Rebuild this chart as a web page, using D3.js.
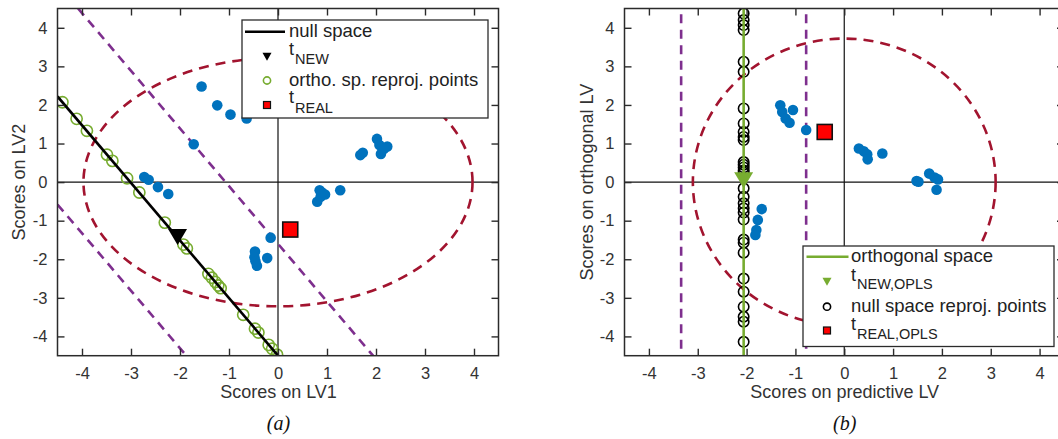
<!DOCTYPE html>
<html>
<head>
<meta charset="utf-8">
<script src="https://cdn.jsdelivr.net/npm/d3@7/dist/d3.min.js"></script>
<style>
  html, body { margin: 0; padding: 0; background: #fff; }
  svg { display: block; }
</style>
</head>
<body>
<svg id="fig" width="1058" height="439"></svg>
<script>
// ---------- shared axis ticks ----------
const tickValues = [-4, -3, -2, -1, 0, 1, 2, 3, 4];
const axisDomain = [-4.5, 4.5];

// ---------- panel (a): PLS scores ----------
const scoresA = [
  [-1.56, 2.48], [-1.24, 1.99], [-0.97, 1.75], [-0.64, 1.65], [-1.72, 0.98],
  [-2.73, 0.13], [-2.64, 0.06], [-2.45, -0.13], [-2.24, -0.31],
  [-0.15, -1.44], [-0.47, -1.80], [-0.48, -1.95], [-0.43, -2.17], [-0.22, -1.97], [-0.46, -2.05],
  [0.85, -0.21], [0.80, -0.51], [0.87, -0.38], [0.96, -0.32], [0.90, -0.27], [1.27, -0.21],
  [1.68, 0.70], [1.73, 0.76], [2.02, 1.12], [2.07, 0.96], [2.10, 0.73], [2.23, 0.92], [2.16, 0.86]
];
const nullSpaceA = [[-4.5, 2.22], [0.0, -4.5]];
const limitUpperA = [[-4.08, 4.5], [1.94, -4.5]];
const limitLowerA = [[-4.5, -0.58], [-1.87, -4.5]];
const reprojA = [
  [-4.40, 2.07], [-4.11, 1.64], [-3.90, 1.33], [-3.49, 0.71], [-3.38, 0.55],
  [-3.08, 0.10], [-2.83, -0.27], [-2.31, -1.05], [-1.93, -1.62], [-1.86, -1.72],
  [-1.42, -2.38], [-1.35, -2.48], [-1.28, -2.59], [-1.22, -2.68], [-1.17, -2.75],
  [-0.71, -3.44], [-0.47, -3.80], [-0.40, -3.90], [-0.19, -4.22], [-0.12, -4.32], [-0.02, -4.47]
];
const tNewA = [-2.05, -1.42];
const tRealA = [0.25, -1.23];
const ellipseA = { cx: 0, cy: 0, rx: 3.97, ry: 3.22 };

// ---------- panel (b): OPLS scores ----------
const scoresB = [
  [-1.31, 1.99], [-1.27, 1.82], [-1.20, 1.65], [-1.12, 1.54], [-1.05, 1.87], [-0.78, 1.35],
  [0.30, 0.87], [0.40, 0.80], [0.47, 0.72], [0.48, 0.59], [0.78, 0.74],
  [1.48, 0.03], [1.52, 0.01], [1.74, 0.22], [1.85, 0.12], [1.92, 0.07], [1.89, -0.20],
  [-1.69, -0.70], [-1.77, -0.98], [-1.80, -1.24], [-1.82, -1.37]
];
const orthoSpaceX = -2.06;
const limitsB = [-3.34, -0.78];
const reprojY_B = [
  4.37, 4.20, 4.07, 3.94, 3.12, 2.86, 1.91, 1.52, 1.30, 1.17, 1.09,
  0.52, 0.45, 0.38, 0.30, 0.25, -0.16, -0.38, -0.55, -0.68, -0.79, -0.97,
  -1.49, -1.57, -1.83, -2.50, -2.84, -3.23, -3.49, -3.62, -4.14
];
const tNewB = [-2.06, 0.05];
const tRealB = [-0.40, 1.30];
const ellipseB = { cx: 0, cy: 0, rx: 3.10, ry: 3.72 };

// ---------- styles ----------
const BLUE = "#0072BD", GREEN = "#77AC30", PURPLE = "#7E2F8E", DKRED = "#A2142F";
const AXIS = "#2b2b2b", FONT = "'Liberation Sans', Arial, Helvetica, sans-serif";
const tickFmt = d => String(d);   // plain hyphen-minus for negatives

const svg = d3.select("#fig");
svg.append("rect").attr("width", 1058).attr("height", 439).attr("fill", "#fff");

function makePanel(id, box, xLabel, yLabel, caption, yLabelX) {
  const x = d3.scaleLinear().domain(axisDomain).range([box.left, box.right]);
  const y = d3.scaleLinear().domain(axisDomain).range([box.bottom, box.top]);
  const g = svg.append("g");
  g.append("clipPath").attr("id", id)
    .append("rect").attr("x", box.left).attr("y", box.top)
    .attr("width", box.right - box.left).attr("height", box.bottom - box.top);
  const plot = g.append("g").attr("clip-path", `url(#${id})`);

  // zero lines
  plot.append("line").attr("x1", x(-4.5)).attr("x2", x(4.5)).attr("y1", y(0)).attr("y2", y(0))
    .attr("stroke", "#111").attr("stroke-width", 1.2);
  plot.append("line").attr("x1", x(0)).attr("x2", x(0)).attr("y1", y(-4.5)).attr("y2", y(4.5))
    .attr("stroke", "#111").attr("stroke-width", 1.2);

  // axes with inward ticks on all four sides
  const tl = 7;
  const frame = g.append("g");
  frame.append("g").attr("transform", `translate(0,${box.bottom})`)
    .call(d3.axisBottom(x).tickValues(tickValues).tickSizeInner(-tl).tickSizeOuter(0).tickPadding(12).tickFormat(tickFmt));
  frame.append("g").attr("transform", `translate(0,${box.top})`)
    .call(d3.axisTop(x).tickValues(tickValues).tickSizeInner(-tl).tickSizeOuter(0).tickFormat(""));
  frame.append("g").attr("transform", `translate(${box.left},0)`)
    .call(d3.axisLeft(y).tickValues(tickValues).tickSizeInner(-tl).tickSizeOuter(0).tickPadding(10).tickFormat(tickFmt));
  frame.append("g").attr("transform", `translate(${box.right},0)`)
    .call(d3.axisRight(y).tickValues(tickValues).tickSizeInner(-tl).tickSizeOuter(0).tickFormat(""));
  frame.selectAll(".domain").remove();
  frame.selectAll(".tick line").attr("stroke", AXIS).attr("stroke-width", 1.4);
  frame.selectAll(".tick text").attr("fill", "#333").attr("font-size", "16.5px").attr("font-family", FONT);
  frame.append("rect").attr("x", box.left).attr("y", box.top)
    .attr("width", box.right - box.left).attr("height", box.bottom - box.top)
    .attr("fill", "none").attr("stroke", AXIS).attr("stroke-width", 1.5);

  g.append("text").attr("x", (x(-4.5) + x(4.5)) / 2 + 0.5).attr("y", 398)
    .attr("text-anchor", "middle").attr("font-family", FONT).attr("font-size", "18px").attr("fill", "#333")
    .text(xLabel);
  g.append("text").attr("transform", `translate(${yLabelX},${(box.top + box.bottom) / 2}) rotate(-90)`)
    .attr("text-anchor", "middle").attr("font-family", FONT).attr("font-size", "18px").attr("fill", "#333")
    .text(yLabel);
  g.append("text").attr("x", (x(-4.5) + x(4.5)) / 2 + 0.5).attr("y", 430)
    .attr("text-anchor", "middle").attr("font-family", "'Liberation Serif', 'Times New Roman', serif")
    .attr("font-style", "italic").attr("font-size", "20px").attr("fill", "#111")
    .text(caption);
  return { x, y, g, plot };
}

function downTriangle(w, h) {
  return `M${-w / 2},${-h / 2}L${w / 2},${-h / 2}L0,${h / 2}Z`;
}

function drawEllipse(p, e) {
  p.plot.append("ellipse")
    .attr("cx", p.x(e.cx)).attr("cy", p.y(e.cy))
    .attr("rx", p.x(e.cx + e.rx) - p.x(e.cx)).attr("ry", p.y(e.cy) - p.y(e.cy + e.ry))
    .attr("fill", "none").attr("stroke", DKRED).attr("stroke-width", 2.6)
    .attr("stroke-dasharray", "10,7");
}

function drawSegment(p, pts, color, width, dash) {
  const line = d3.line().x(d => p.x(d[0])).y(d => p.y(d[1]));
  const path = p.plot.append("path").attr("d", line(pts))
    .attr("fill", "none").attr("stroke", color).attr("stroke-width", width);
  if (dash) path.attr("stroke-dasharray", dash);
}

function drawDots(p, pts) {
  p.plot.append("g").selectAll("circle").data(pts).join("circle")
    .attr("cx", d => p.x(d[0])).attr("cy", d => p.y(d[1])).attr("r", 5.3)
    .attr("fill", BLUE);
}

function drawSquare(p, pt) {
  p.plot.append("rect").attr("x", p.x(pt[0]) - 7.5).attr("y", p.y(pt[1]) - 7.5)
    .attr("width", 15).attr("height", 15)
    .attr("fill", "#ff0000").attr("stroke", "#111").attr("stroke-width", 1.6);
}

function drawLegend(p, box, rows) {
  const lg = p.g.append("g");
  lg.append("rect").attr("x", box.x).attr("y", box.y).attr("width", box.w).attr("height", box.h)
    .attr("fill", "#fff").attr("stroke", AXIS).attr("stroke-width", 1.3);
  rows.forEach(r => {
    const cy = r.cy;
    if (r.kind === "line") {
      lg.append("line").attr("x1", box.sx0).attr("x2", box.sx1).attr("y1", cy).attr("y2", cy)
        .attr("stroke", r.color).attr("stroke-width", 2.6);
    } else if (r.kind === "tri") {
      lg.append("path").attr("d", downTriangle(9, 8)).attr("transform", `translate(${box.mx},${cy})`)
        .attr("fill", r.color);
    } else if (r.kind === "circle") {
      lg.append("circle").attr("cx", box.mx).attr("cy", cy).attr("r", 3.6)
        .attr("fill", "none").attr("stroke", r.color).attr("stroke-width", 1.6);
    } else if (r.kind === "square") {
      lg.append("rect").attr("x", box.mx - 3.5).attr("y", cy - 3.5).attr("width", 7).attr("height", 7)
        .attr("fill", "#ff0000").attr("stroke", "#111").attr("stroke-width", 1.2);
    }
    if (r.sub) {
      // main symbol with a lowered, smaller subscript
      lg.append("text").attr("x", box.tx).attr("y", cy + r.tdy).attr("font-family", FONT)
        .attr("font-size", "18px").attr("fill", "#222").text(r.label);
      lg.append("text").attr("x", box.tx + 6).attr("y", cy + r.sdy).attr("font-family", FONT)
        .attr("font-size", "14.5px").attr("fill", "#222").text(r.sub);
    } else {
      lg.append("text").attr("x", box.tx).attr("y", cy + 5.5).attr("font-family", FONT)
        .attr("font-size", "18.5px").attr("fill", "#222").text(r.label);
    }
  });
}

// ===== panel (a) =====
const pA = makePanel("clipA", { left: 57.5, right: 498.5, top: 8.5, bottom: 355.7 },
  "Scores on LV1", "Scores on LV2", "(a)", 25);
drawEllipse(pA, ellipseA);
drawSegment(pA, limitUpperA, PURPLE, 2.6, "9,6.5");
drawSegment(pA, limitLowerA, PURPLE, 2.6, "9,6.5");
drawDots(pA, scoresA);
pA.plot.append("g").selectAll("circle").data(reprojA).join("circle")
  .attr("cx", d => pA.x(d[0])).attr("cy", d => pA.y(d[1])).attr("r", 5.6)
  .attr("fill", "none").attr("stroke", GREEN).attr("stroke-width", 1.6);
drawSegment(pA, nullSpaceA, "#000", 2.6);
pA.plot.append("path").attr("d", downTriangle(19, 16))
  .attr("transform", `translate(${pA.x(tNewA[0])},${pA.y(tNewA[1])})`).attr("fill", "#000");
drawSquare(pA, tRealA);
drawLegend(pA, { x: 242, y: 20, w: 246, h: 98, sx0: 245, sx1: 285, mx: 267, tx: 289 }, [
  { kind: "line", color: "#000", cy: 31.7, label: "null space" },
  { kind: "tri", color: "#000", cy: 56.7, label: "t", sub: "NEW", tdy: -2, sdy: 7 },
  { kind: "circle", color: GREEN, cy: 80.5, label: "ortho. sp. reproj. points" },
  { kind: "square", cy: 105, label: "t", sub: "REAL", tdy: -2, sdy: 8 }
]);

// ===== panel (b) =====
const pB = makePanel("clipB", { left: 624.5, right: 1064, top: 8.5, bottom: 355.7 },
  "Scores on predictive LV", "Scores on orthogonal LV", "(b)", 593);
drawEllipse(pB, ellipseB);
limitsB.forEach(v => drawSegment(pB, [[v, 4.35], [v, -4.5]], PURPLE, 2.6, "9,6.5"));
drawDots(pB, scoresB);
pB.plot.append("g").selectAll("circle").data(reprojY_B).join("circle")
  .attr("cx", pB.x(orthoSpaceX)).attr("cy", d => pB.y(d)).attr("r", 5.2)
  .attr("fill", "none").attr("stroke", "#000").attr("stroke-width", 1.6);
drawSegment(pB, [[orthoSpaceX, 4.5], [orthoSpaceX, -4.5]], GREEN, 2.6);
pB.plot.append("path").attr("d", downTriangle(19, 16))
  .attr("transform", `translate(${pB.x(tNewB[0])},${pB.y(tNewB[1])})`).attr("fill", GREEN);
drawSquare(pB, tRealB);
drawLegend(pB, { x: 803, y: 246, w: 251, h: 100.5, sx0: 806.5, sx1: 848.5, mx: 827, tx: 851 }, [
  { kind: "line", color: GREEN, cy: 256.7, label: "orthogonal space" },
  { kind: "tri", color: GREEN, cy: 281.7, label: "t", sub: "NEW,OPLS", tdy: -1, sdy: 7.5 },
  { kind: "circle", color: "#000", cy: 306.7, label: "null space reproj. points" },
  { kind: "square", cy: 330.5, label: "t", sub: "REAL,OPLS", tdy: -1, sdy: 8 }
]);
</script>
</body>
</html>
